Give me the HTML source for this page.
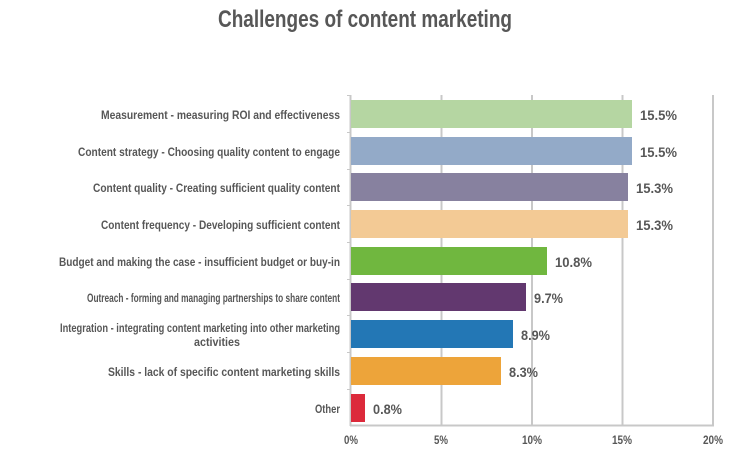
<!DOCTYPE html>
<html><head><meta charset="utf-8"><style>
html,body{margin:0;padding:0;background:#fff;}
svg{display:block;}
text{font-family:"Liberation Sans Narrow","Liberation Sans",sans-serif;font-weight:bold;fill:#575757;}
</style></head><body>
<svg width="730" height="456" viewBox="0 0 730 456" xmlns="http://www.w3.org/2000/svg">
<text x="218" y="27" font-size="24" textLength="294" lengthAdjust="spacingAndGlyphs">Challenges of content marketing</text>
<g stroke="#c8c8c8" stroke-width="2">
<line x1="441.5" y1="95" x2="441.5" y2="426"/>
<line x1="532" y1="95" x2="532" y2="426"/>
<line x1="622.5" y1="95" x2="622.5" y2="426"/>
<line x1="713" y1="95" x2="713" y2="426"/>
<line x1="350.5" y1="95" x2="350.5" y2="426"/>
<line x1="350" y1="425.5" x2="714" y2="425.5"/>
</g>
<g stroke="#c8c8c8" stroke-width="1">
<line x1="347" y1="95.5" x2="350" y2="95.5"/><line x1="347" y1="132.5" x2="350" y2="132.5"/><line x1="347" y1="169.5" x2="350" y2="169.5"/><line x1="347" y1="205.5" x2="350" y2="205.5"/><line x1="347" y1="242.5" x2="350" y2="242.5"/><line x1="347" y1="279.5" x2="350" y2="279.5"/><line x1="347" y1="315.5" x2="350" y2="315.5"/><line x1="347" y1="352.5" x2="350" y2="352.5"/><line x1="347" y1="389.5" x2="350" y2="389.5"/>
</g>
<rect x="351" y="100" width="281" height="28" fill="#b5d6a2"/>
<rect x="351" y="137" width="281" height="28" fill="#93aac8"/>
<rect x="351" y="173" width="277" height="28" fill="#87819f"/>
<rect x="351" y="210" width="277" height="28" fill="#f3ca95"/>
<rect x="351" y="247" width="196" height="28" fill="#70b73f"/>
<rect x="351" y="283" width="175" height="28" fill="#62386f"/>
<rect x="351" y="320" width="162" height="28" fill="#2377b5"/>
<rect x="351" y="357" width="150" height="28" fill="#eda43a"/>
<rect x="351" y="394" width="14" height="28" fill="#dc2a3b"/>
<g font-size="14">
<text x="640" y="120" textLength="37" lengthAdjust="spacingAndGlyphs">15.5%</text>
<text x="640" y="157" textLength="37" lengthAdjust="spacingAndGlyphs">15.5%</text>
<text x="636" y="193" textLength="37" lengthAdjust="spacingAndGlyphs">15.3%</text>
<text x="636" y="230" textLength="37" lengthAdjust="spacingAndGlyphs">15.3%</text>
<text x="555" y="267" textLength="37" lengthAdjust="spacingAndGlyphs">10.8%</text>
<text x="534" y="303" textLength="29" lengthAdjust="spacingAndGlyphs">9.7%</text>
<text x="521" y="340" textLength="29" lengthAdjust="spacingAndGlyphs">8.9%</text>
<text x="509" y="377" textLength="29" lengthAdjust="spacingAndGlyphs">8.3%</text>
<text x="373" y="414" textLength="29" lengthAdjust="spacingAndGlyphs">0.8%</text>
</g>
<g font-size="12" text-anchor="end">
<text x="340" y="119" textLength="239" lengthAdjust="spacingAndGlyphs">Measurement - measuring ROI and effectiveness</text>
<text x="340" y="156" textLength="262" lengthAdjust="spacingAndGlyphs">Content strategy - Choosing quality content to engage</text>
<text x="340" y="192" textLength="247" lengthAdjust="spacingAndGlyphs">Content quality - Creating sufficient quality content</text>
<text x="340" y="229" textLength="239" lengthAdjust="spacingAndGlyphs">Content frequency - Developing sufficient content</text>
<text x="340" y="266" textLength="281" lengthAdjust="spacingAndGlyphs">Budget and making the case - insufficient budget or buy-in</text>
<text x="340" y="302" textLength="253" lengthAdjust="spacingAndGlyphs">Outreach - forming and managing partnerships to share content</text>
<text x="340" y="332" textLength="280" lengthAdjust="spacingAndGlyphs">Integration - integrating content marketing into other marketing</text>
<text x="240" y="346" textLength="46" lengthAdjust="spacingAndGlyphs">activities</text>
<text x="340" y="376" textLength="232" lengthAdjust="spacingAndGlyphs">Skills - lack of specific content marketing skills</text>
<text x="340" y="413" textLength="25" lengthAdjust="spacingAndGlyphs">Other</text>
</g>
<g font-size="12" text-anchor="middle">
<text x="351" y="444" textLength="14" lengthAdjust="spacingAndGlyphs">0%</text>
<text x="441" y="444" textLength="14" lengthAdjust="spacingAndGlyphs">5%</text>
<text x="532" y="444" textLength="20" lengthAdjust="spacingAndGlyphs">10%</text>
<text x="622" y="444" textLength="20" lengthAdjust="spacingAndGlyphs">15%</text>
<text x="713" y="444" textLength="20" lengthAdjust="spacingAndGlyphs">20%</text>
</g>
</svg>
</body></html>
